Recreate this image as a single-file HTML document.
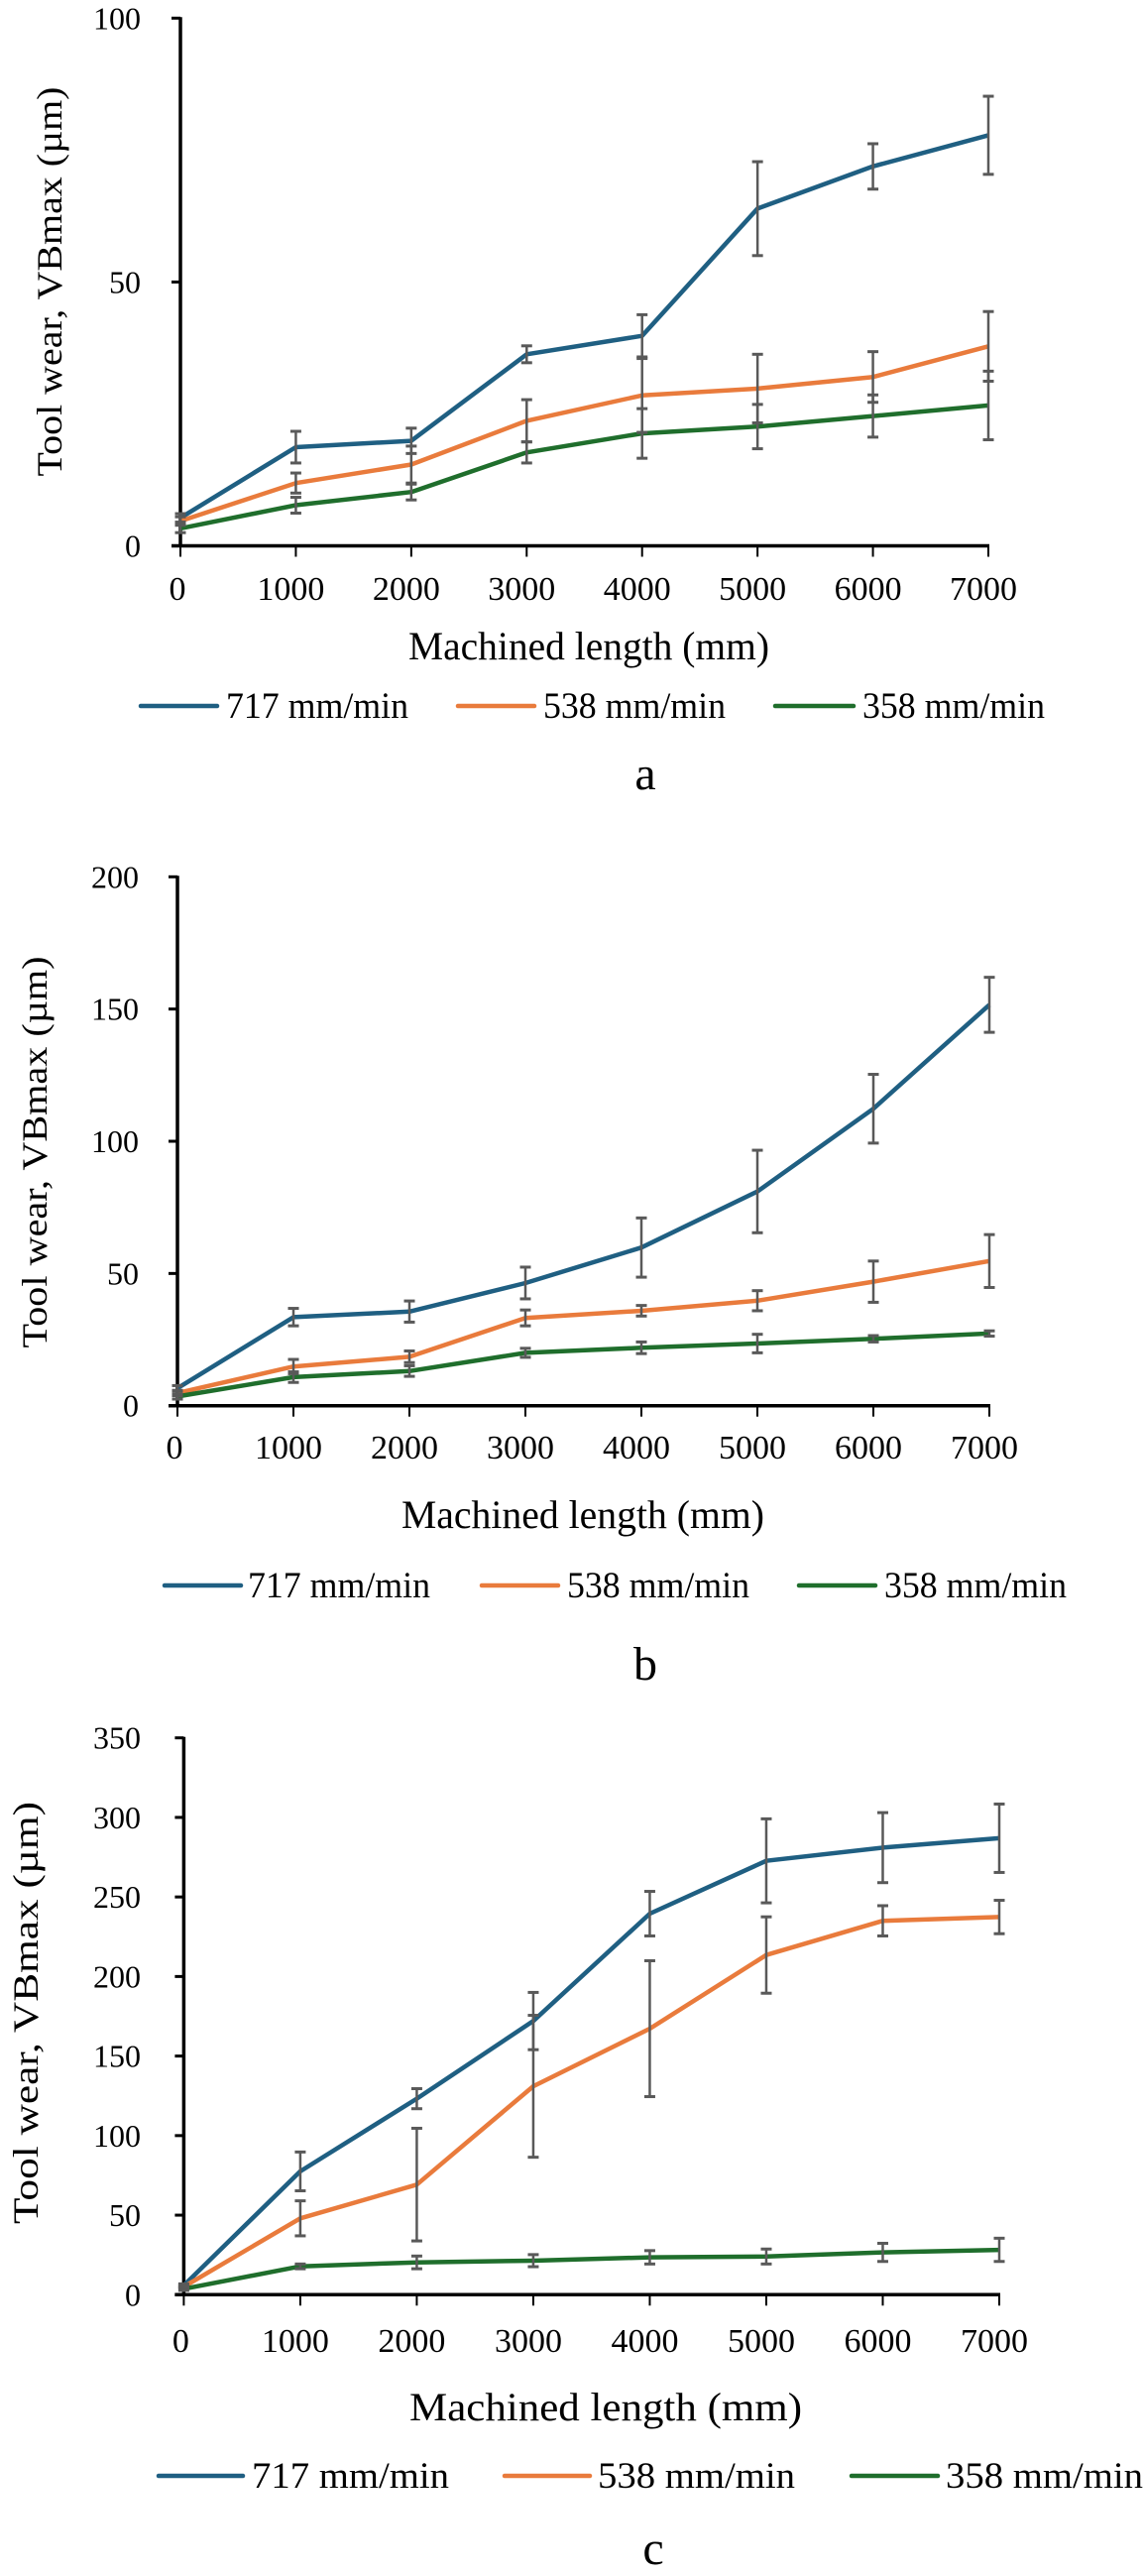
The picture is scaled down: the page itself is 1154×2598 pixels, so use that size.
<!DOCTYPE html>
<html><head><meta charset="utf-8">
<style>
html,body{margin:0;padding:0;background:#fff;}
svg{display:block;font-family:"Liberation Serif","Times New Roman",serif;}
</style></head>
<body>
<svg id="fig" width="1154" height="2598" viewBox="0 0 1154 2598" xmlns="http://www.w3.org/2000/svg"></svg>
<script>
// ---- data ----
const xCats = [0,1000,2000,3000,4000,5000,6000,7000];
const xTickLabels = ["0","1000","2000","3000","4000","5000","6000","7000"];
const seriesNames = ["717 mm/min","538 mm/min","358 mm/min"];

const aTicks = [0,50,100];
const aBlue = [5.3,18.7,19.9,36.3,39.8,63.9,71.9,77.8];
const aBlueErr = [0.8,3,2.4,1.6,4,8.9,4.3,7.4];
const aOrange = [4.7,11.9,15.4,23.7,28.5,29.8,32.0,37.8];
const aOrangeErr = [0.8,1.9,3.5,4,7,6.5,4.8,6.6];
const aGreen = [3.3,7.7,10.2,17.7,21.3,22.6,24.6,26.6];
const aGreenErr = [0.8,1.5,1.5,2,4.7,4.2,4,6.5];

const bTicks = [0,50,100,150,200];
const bBlue = [6.6,33.5,35.6,46.4,59.8,81,112.3,151.6];
const bBlueErr = [1,3.3,4,6,11.2,15.6,13,10.4];
const bOrange = [4.8,14.8,18.5,33.2,35.9,39.7,46.9,54.7];
const bOrangeErr = [1,2.7,2.2,3,2,3.8,7.8,10];
const bGreen = [3.5,10.8,13.1,20,21.9,23.5,25.3,27.3];
const bGreenErr = [1,2,2,1.7,2.2,3.5,1.2,1];

const cTicks = [0,50,100,150,200,250,300,350];
const cBlue = [5.8,77.5,123.2,172,239.5,272.7,281,286.9];
const cBlueErr = [1,12.2,6.3,18,14,26.4,22,21.5];
const cOrange = [5,48,69.2,131,167.2,213.5,235,237.4];
const cOrangeErr = [1,11,35.4,44.6,42.7,24,9.5,10.5];
const cGreen = [3.7,17.8,20.3,21.4,23.5,24,26.6,28.2];
const cGreenErr = [1,1.5,4,3.8,4.2,4.7,5.7,7.3];

// ---- drawing ----
const NS = "http://www.w3.org/2000/svg";
const svg = document.getElementById("fig");
const COLORS = ["#1F5F82","#E97B3C","#1F6E2C"];
function mk(tag, attrs, parent){
  const e = document.createElementNS(NS, tag);
  for (const k in attrs) e.setAttribute(k, attrs[k]);
  (parent||svg).appendChild(e);
  return e;
}
function drawChart(id, L, ticks, series, errs){
  const g = mk("g", {});
  
  
  const max = ticks[ticks.length-1];
  const sx = v => L.x0 + (v / 7000) * (L.x1 - L.x0);
  const sy = v => L.y0 - (v / max) * (L.y0 - L.yTop);
  // y ticks
  ticks.forEach(t => {
    const tk = mk("line", {x1:L.x0-9, x2:L.x0, y1:sy(t), y2:sy(t), stroke:"#000","stroke-width":3}, g);
    
    
    const tl = mk("text", {x:L.ylx, y:sy(t)+11, "text-anchor":"end", "font-size":32}, g);
    
    
    tl.textContent = String(t);
  });
  // x ticks
  xCats.forEach((c,i) => {
    const tk = mk("line", {x1:sx(c), x2:sx(c), y1:L.y0, y2:L.y0+11, stroke:"#000","stroke-width":2}, g);
    
    
    const tl = mk("text", {x:sx(c)-(i===0?3:5), y:L.xly, "text-anchor":"middle", "font-size":34}, g);
    
    
    tl.textContent = xTickLabels[i];
  });
  // axes
  const ya = mk("line", {x1:L.x0, x2:L.x0, y1:L.yTop-1, y2:L.y0+1, stroke:"#000","stroke-width":3.5}, g);
  
  
  const xa = mk("line", {x1:L.x0-9, x2:L.x1+1, y1:L.y0, y2:L.y0, stroke:"#000","stroke-width":3.5}, g);
  
  
  // series
  series.forEach((s, si) => {
    const pts = s.map((v,i) => sx(xCats[i]).toFixed(1)+","+sy(v).toFixed(1)).join(" ");
    const pl = mk("polyline", {points:pts, fill:"none", stroke:COLORS[si], "stroke-width":4.5, "stroke-linejoin":"round"}, g);
    
    
  });
  // error bars
  series.forEach((s, si) => {
    s.forEach((v,i) => {
      const e = errs[si][i], x = sx(xCats[i]);
      const eg = mk("g", {stroke:"#595959","stroke-width":2.5}, g);
      
      
      mk("line", {x1:x, x2:x, y1:sy(v+e), y2:sy(v-e)}, eg);
      mk("line", {x1:x-5.5, x2:x+5.5, y1:sy(v+e), y2:sy(v+e), "stroke-width":3}, eg);
      mk("line", {x1:x-5.5, x2:x+5.5, y1:sy(v-e), y2:sy(v-e), "stroke-width":3}, eg);
    });
  });
  // y title
  const yt = mk("text", {x:0, y:0, "text-anchor":"middle", "font-size":36, textLength:L.ytLen, lengthAdjust:"spacingAndGlyphs",
    transform:"translate("+(L.ytx+12)+","+L.yty+") rotate(-90)"}, g);
  
  
  yt.textContent = "Tool wear, VBmax (\u00b5m)";
  // x title
  const xt = mk("text", {x:L.xtx, y:L.xty+13, "text-anchor":"middle", "font-size":40, textLength:L.xtLen, lengthAdjust:"spacingAndGlyphs"}, g);
  
  
  xt.textContent = "Machined length (mm)";
  // legend
  const lg = mk("g", {}, g);
  
  
  seriesNames.forEach((n, si) => {
    const eg = mk("g", {}, lg);
    
    
    mk("line", {x1:L.leg[si][0], x2:L.leg[si][1], y1:L.legY, y2:L.legY, stroke:COLORS[si], "stroke-width":4.5, "stroke-linecap":"round"}, eg);
    const t = mk("text", {x:L.leg[si][2], y:L.legY+12, "font-size":37, textLength:L.legLen, lengthAdjust:"spacingAndGlyphs"}, eg);
    t.textContent = n;
  });
  // panel letter
  const pl = mk("text", {x:L.letX, y:L.letY+14, "text-anchor":"middle", "font-size":48}, g);
  
  
  pl.textContent = id;
}

drawChart("a",
  {x0:182, x1:997, yTop:18.3, y0:550.5, ylx:142, xly:605, ytx:50, yty:284, ytLen:393, xtx:594, xty:652, xtLen:364,
   legY:712, leg:[[142,219,228],[462,539,548],[782,861,870]], legLen:184, letX:651, letY:782},
  aTicks, [aBlue,aOrange,aGreen], [aBlueErr,aOrangeErr,aGreenErr]);
drawChart("b",
  {x0:179, x1:998, yTop:884.3, y0:1417.7, ylx:140, xly:1471, ytx:35, yty:1162, ytLen:395, xtx:588, xty:1528, xtLen:366,
   legY:1599, leg:[[166,243,250],[486,563,572],[806,883,892]], legLen:184, letX:651, letY:1680},
  bTicks, [bBlue,bOrange,bGreen], [bBlueErr,bOrangeErr,bGreenErr]);
drawChart("c",
  {x0:185.4, x1:1008, yTop:1752.7, y0:2314.3, ylx:142, xly:2372, ytx:26, yty:2030, ytLen:426, xtx:611, xty:2428, xtLen:396,
   legY:2497, leg:[[160,245,254],[509,595,603],[859,946,954]], legLen:199, letX:659, letY:2572},
  cTicks, [cBlue,cOrange,cGreen], [cBlueErr,cOrangeErr,cGreenErr]);
</script>
</body></html>
